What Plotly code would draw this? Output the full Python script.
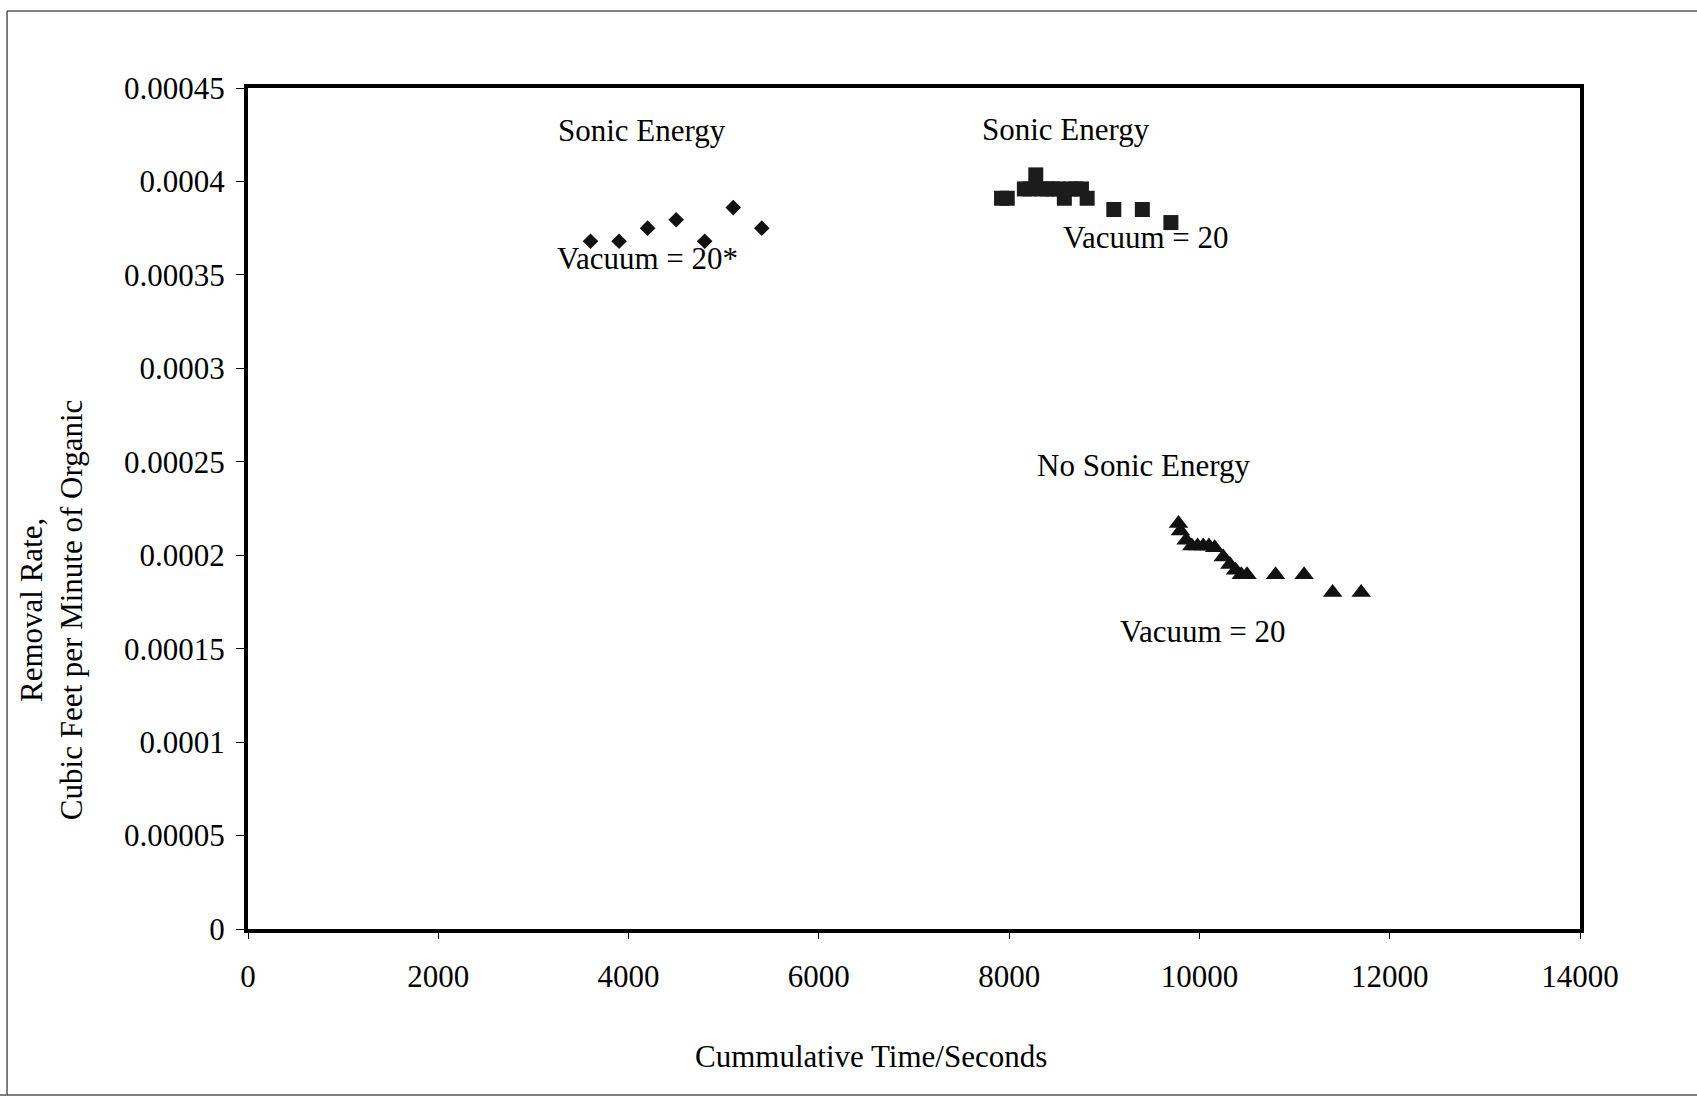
import plotly.graph_objects as go

# Removal-rate measurements (cubic feet per minute of organic) vs cumulative time (s)
sonic1_time = [3600, 3900, 4200, 4500, 4800, 5100, 5400]
sonic1_rate = [0.000368, 0.000368, 0.000375, 0.0003795, 0.000368, 0.000386, 0.000375]

sonic2_time = [7920, 7980, 8160, 8220, 8280, 8340, 8400, 8460, 8520, 8580, 8640,
               8700, 8760, 8820, 9100, 9400, 9700]
sonic2_rate = [0.000391, 0.000391, 0.000396, 0.000396, 0.0004035, 0.000396, 0.000396,
               0.000396, 0.000396, 0.000391, 0.000396, 0.000396, 0.000396, 0.000391,
               0.000385, 0.000385, 0.000378]

nosonic_time = [9780, 9800, 9860, 9920, 9980, 10040, 10100, 10160, 10250, 10320,
                10380, 10440, 10500, 10800, 11100, 11400, 11700]
nosonic_rate = [0.000217, 0.000213, 0.000208, 0.000205, 0.000205, 0.000205, 0.000205,
                0.000204, 0.000199, 0.000195, 0.000192, 0.0001895, 0.0001895,
                0.0001895, 0.0001895, 0.00018, 0.00018]

x_ticks = [0, 2000, 4000, 6000, 8000, 10000, 12000, 14000]
x_tick_text = ["0", "2000", "4000", "6000", "8000", "10000", "12000", "14000"]
y_ticks = [0, 0.00005, 0.0001, 0.00015, 0.0002, 0.00025, 0.0003, 0.00035, 0.0004, 0.00045]
y_tick_text = ["0", "0.00005", "0.0001", "0.00015", "0.0002", "0.00025", "0.0003",
               "0.00035", "0.0004", "0.00045"]

# Text labels placed in data coordinates: (text, x, y)
labels = [
    ("Sonic Energy", 4141, 0.000427),
    ("Vacuum = 20*", 4204, 0.000359),
    ("Sonic Energy", 8598, 0.000428),
    ("Vacuum = 20", 9439, 0.000370),
    ("No Sonic Energy", 9407, 0.000248),
    ("Vacuum = 20", 10038, 0.000159),
]

FONT = "Liberation Serif, Times New Roman, serif"
INK = "#111111"

fig = go.Figure()
fig.add_trace(go.Scatter(x=sonic1_time, y=sonic1_rate, mode="markers",
                         marker=dict(symbol="diamond", size=12, color=INK),
                         showlegend=False))
fig.add_trace(go.Scatter(x=sonic2_time, y=sonic2_rate, mode="markers",
                         marker=dict(symbol="square", size=15, color="#1c1c1c"),
                         showlegend=False))
fig.add_trace(go.Scatter(x=nosonic_time, y=nosonic_rate, mode="markers",
                         marker=dict(symbol="triangle-up", size=17, color=INK),
                         showlegend=False))

for text, x, y in labels:
    fig.add_annotation(x=x, y=y, xref="x", yref="y", text=text, showarrow=False,
                       font=dict(family=FONT, size=31, color="black"),
                       xanchor="center", yanchor="middle")

# Axis titles
fig.add_annotation(x=0.4677, y=-0.152, xref="paper", yref="paper",
                   text="Cummulative Time/Seconds", showarrow=False,
                   font=dict(family=FONT, size=31, color="black"),
                   xanchor="center", yanchor="middle")
fig.add_annotation(x=-0.148, y=0.379, xref="paper", yref="paper",
                   text="Removal Rate,<br>Cubic Feet per Minute of Organic",
                   showarrow=False, textangle=-90,
                   font=dict(family=FONT, size=31, color="black"),
                   xanchor="center", yanchor="middle")

# Page border
border = dict(color="#555555", width=1.5)
fig.add_shape(type="line", xref="paper", yref="paper", x0=-0.1809, x1=1.088,
              y0=1.0916, y1=1.0916, line=border)
fig.add_shape(type="line", xref="paper", yref="paper", x0=-0.1809, x1=-0.1809,
              y0=1.0916, y1=-0.1974, line=border)
fig.add_shape(type="line", xref="paper", yref="paper", x0=-0.19, x1=1.088,
              y0=-0.1974, y1=-0.1974, line=border)

fig.update_xaxes(range=[0, 14000], tickvals=x_ticks, ticktext=x_tick_text,
                 showgrid=False, zeroline=False,
                 showline=True, linecolor="black", linewidth=4, mirror=True,
                 ticks="outside", ticklen=6, tickwidth=1, tickcolor="black",
                 ticklabelstandoff=11,
                 tickfont=dict(family=FONT, size=31, color="black"))
fig.update_yaxes(range=[0, 0.00045], tickvals=y_ticks, ticktext=y_tick_text,
                 showgrid=False, zeroline=False,
                 showline=True, linecolor="black", linewidth=4, mirror=True,
                 ticks="outside", ticklen=8, tickwidth=1, tickcolor="black",
                 ticklabelstandoff=5,
                 tickfont=dict(family=FONT, size=31, color="black"))

fig.update_layout(width=1697, height=1097, autosize=False,
                  margin=dict(l=248, r=117, t=88, b=168),
                  paper_bgcolor="white", plot_bgcolor="white",
                  font=dict(family=FONT, color="black"))

fig.write_html("out.html")
